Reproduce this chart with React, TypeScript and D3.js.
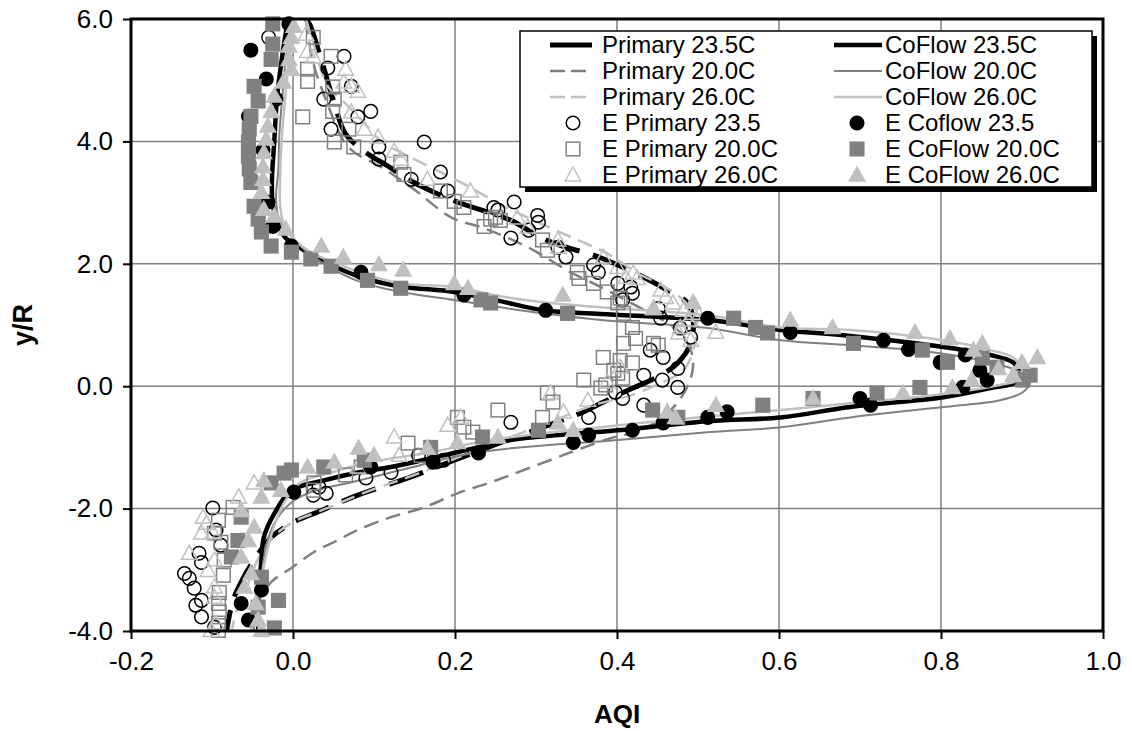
import React, { useEffect, useRef } from 'react';
import * as d3 from 'd3';

type P = [number, number];

const xTicks = [-0.2, 0.0, 0.2, 0.4, 0.6, 0.8, 1.0];
const yTicks = [-4, -2, 0, 2, 4, 6];

// ---- model curves [AQI, y/R] ----
const primary235: P[] = [
  [0.016, 6.0], [0.021, 5.9], [0.035, 5.33], [0.05, 4.67], [0.065, 4.12], [0.09, 3.82], [0.118, 3.59], [0.142, 3.38],
  [0.174, 3.17], [0.203, 3.01], [0.248, 2.81], [0.269, 2.71], [0.306, 2.43], [0.33, 2.3], [0.371, 2.14], [0.396, 2.01],
  [0.433, 1.78], [0.462, 1.57], [0.487, 1.36], [0.494, 1.08], [0.491, 0.7], [0.475, 0.38], [0.454, 0.18], [0.413, -0.07],
  [0.38, -0.28], [0.355, -0.44], [0.275, -0.83], [0.199, -1.21], [0.142, -1.5], [0.08, -1.78], [0.035, -2.03],
  [-0.002, -2.24], [-0.027, -2.47], [-0.045, -2.78], [-0.06, -3.1], [-0.074, -3.5], [-0.082, -4.0],
];
const primary200: P[] = [
  [0.016, 6.0], [0.024, 5.33], [0.041, 4.67], [0.068, 3.91], [0.109, 3.58], [0.149, 3.22], [0.195, 2.76], [0.236, 2.58],
  [0.29, 2.27], [0.343, 1.86], [0.38, 1.62], [0.417, 1.36], [0.45, 1.13], [0.478, 0.88], [0.491, 0.59], [0.494, 0.34],
  [0.488, 0.02], [0.472, -0.31], [0.448, -0.59], [0.417, -0.77], [0.392, -0.85], [0.343, -1.08], [0.285, -1.37],
  [0.244, -1.57], [0.203, -1.75], [0.162, -1.98], [0.121, -2.14], [0.08, -2.35], [0.053, -2.53], [0.026, -2.71],
  [-0.002, -2.97], [-0.027, -3.2], [-0.042, -3.5], [-0.049, -4.0],
];
const primary260: P[] = [
  [0.016, 6.0], [0.026, 5.56], [0.043, 4.9], [0.063, 4.64], [0.084, 4.36], [0.109, 4.0], [0.133, 3.82], [0.174, 3.55],
  [0.216, 3.27], [0.256, 2.97], [0.297, 2.71], [0.351, 2.39], [0.388, 2.17], [0.425, 1.85], [0.462, 1.6], [0.488, 1.32],
  [0.499, 1.0], [0.494, 0.59], [0.482, 0.26], [0.454, 0.05], [0.417, -0.15], [0.371, -0.31], [0.33, -0.52],
  [0.275, -0.8], [0.201, -1.18], [0.146, -1.47], [0.096, -1.7], [0.035, -2.03], [0.0, -2.22], [-0.025, -2.47],
  [-0.042, -2.8], [-0.055, -3.2], [-0.068, -3.6], [-0.076, -4.0],
];
const coflow235: P[] = [
  [-0.006, 6.0], [-0.014, 5.33], [-0.02, 4.67], [-0.023, 4.02], [-0.026, 3.37], [-0.025, 2.96], [-0.018, 2.63],
  [-0.009, 2.42], [0.001, 2.34], [0.022, 2.14], [0.047, 1.98], [0.084, 1.78], [0.133, 1.63], [0.199, 1.54], [0.256, 1.39],
  [0.309, 1.24], [0.38, 1.18], [0.512, 1.08], [0.602, 0.92], [0.688, 0.82], [0.803, 0.64], [0.861, 0.51], [0.889, 0.39],
  [0.898, 0.23], [0.893, 0.07], [0.861, -0.03], [0.803, -0.18], [0.688, -0.34], [0.602, -0.51], [0.515, -0.57],
  [0.401, -0.72], [0.269, -0.88], [0.228, -1.0], [0.17, -1.18], [0.121, -1.32], [0.08, -1.41], [0.038, -1.54],
  [-0.002, -1.7], [-0.023, -2.08], [-0.036, -2.47], [-0.039, -2.84], [-0.042, -3.38], [-0.043, -4.0],
];
const coflow200: P[] = [
  [0.0, 6.0], [-0.009, 5.33], [-0.012, 4.9], [-0.017, 4.08], [-0.018, 3.55], [-0.021, 3.06], [-0.017, 2.73],
  [-0.002, 2.45], [0.018, 2.19], [0.047, 1.93], [0.084, 1.7], [0.133, 1.54], [0.199, 1.41], [0.256, 1.29], [0.309, 1.19],
  [0.38, 1.08], [0.512, 0.95], [0.602, 0.75], [0.688, 0.67], [0.787, 0.56], [0.861, 0.39], [0.898, 0.23], [0.91, 0.07],
  [0.901, -0.1], [0.873, -0.23], [0.803, -0.34], [0.688, -0.51], [0.602, -0.67], [0.515, -0.75], [0.401, -0.88],
  [0.228, -1.08], [0.133, -1.37], [0.072, -1.57], [0.022, -1.73], [-0.002, -1.9], [-0.021, -2.19], [-0.033, -2.6],
  [-0.039, -3.17], [-0.042, -4.0],
];
const coflow260: P[] = [
  [0.0, 6.0], [-0.005, 5.33], [-0.01, 4.67], [-0.014, 4.02], [-0.016, 3.37], [-0.016, 2.96], [-0.011, 2.63],
  [0.0, 2.42], [0.022, 2.19], [0.059, 1.98], [0.096, 1.8], [0.133, 1.68], [0.199, 1.62], [0.256, 1.47], [0.309, 1.37],
  [0.38, 1.29], [0.512, 1.16], [0.602, 0.96], [0.688, 0.92], [0.803, 0.75], [0.861, 0.59], [0.889, 0.47], [0.9, 0.26],
  [0.895, 0.1], [0.873, 0.02], [0.787, -0.15], [0.688, -0.28], [0.602, -0.39], [0.515, -0.49], [0.38, -0.67],
  [0.244, -0.88], [0.17, -1.08], [0.096, -1.24], [0.047, -1.41], [0.01, -1.57], [-0.009, -1.86], [-0.023, -2.27],
  [-0.033, -2.76], [-0.042, -3.33], [-0.052, -4.0],
];

// ---- experimental points [AQI, y/R] ----
const ePrimary235: P[] = [
  [-0.03, 5.7], [0.063, 5.39], [0.043, 5.2], [0.072, 4.9], [0.038, 4.69], [0.096, 4.49], [0.08, 4.4], [0.047, 4.2],
  [0.106, 3.91], [0.106, 3.71], [0.162, 3.99], [0.182, 3.5], [0.191, 3.19], [0.146, 3.38], [0.248, 2.92], [0.273, 3.01],
  [0.253, 2.88], [0.302, 2.79], [0.303, 2.68], [0.269, 2.42], [0.291, 2.55], [0.327, 2.27], [0.337, 2.11], [0.371, 1.98],
  [0.377, 1.86], [0.401, 1.68], [0.417, 1.62], [0.419, 1.52], [0.407, 1.41], [0.451, 1.27], [0.454, 1.11], [0.478, 0.95],
  [0.491, 0.8], [0.441, 0.59], [0.457, 0.47], [0.475, 0.29], [0.433, 0.18], [0.456, 0.1], [0.475, -0.02], [0.398, -0.1],
  [0.407, -0.2], [0.433, -0.31], [0.365, -0.51], [0.269, -0.59], [0.186, -1.21], [0.155, -1.13], [0.121, -1.41],
  [0.09, -1.5], [0.032, -1.65], [0.041, -1.75], [0.025, -1.78], [-0.099, -1.99], [-0.095, -2.35], [-0.089, -2.6],
  [-0.116, -2.73], [-0.113, -2.88], [-0.134, -3.06], [-0.128, -3.14], [-0.122, -3.3], [-0.113, -3.5], [-0.12, -3.58],
  [-0.113, -3.77], [-0.097, -3.94],
];
const ePrimary200: P[] = [
  [0.025, 5.7], [0.047, 5.39], [0.018, 5.18], [0.018, 4.98], [0.049, 4.89], [0.051, 4.69], [0.049, 4.49], [0.012, 4.4],
  [0.069, 4.2], [0.051, 3.99], [0.075, 3.91], [0.133, 3.66], [0.137, 3.46], [0.182, 3.19], [0.199, 3.02], [0.211, 2.92],
  [0.236, 2.61], [0.244, 2.73], [0.25, 2.76], [0.256, 2.71], [0.308, 2.39], [0.314, 2.22], [0.351, 1.86], [0.353, 1.76],
  [0.371, 1.68], [0.388, 1.54], [0.404, 1.44], [0.401, 1.36], [0.408, 1.19], [0.419, 0.96], [0.423, 0.78], [0.408, 0.7],
  [0.445, 0.7], [0.451, 0.67], [0.383, 0.47], [0.404, 0.42], [0.419, 0.38], [0.396, 0.26], [0.401, 0.21], [0.359, 0.1],
  [0.386, 0.02], [0.38, -0.03], [0.407, 0.13], [0.314, -0.11], [0.321, -0.26], [0.253, -0.39], [0.203, -0.51],
  [0.308, -0.51], [0.222, -0.75], [0.211, -0.67], [0.142, -0.93], [0.158, -1.13], [0.084, -1.32], [0.065, -1.45],
  [0.026, -1.58], [0.025, -1.7], [-0.074, -1.98], [-0.092, -2.19], [-0.097, -2.4], [-0.089, -2.55], [-0.085, -2.84],
  [-0.086, -3.09], [-0.091, -3.37], [-0.092, -3.55], [-0.091, -3.69], [-0.092, -3.87], [-0.092, -3.99],
];
const ePrimary260: P[] = [
  [0.016, 5.75], [0.018, 5.47], [0.025, 5.38], [0.065, 5.18], [0.063, 4.97], [0.072, 4.9], [0.08, 4.82], [0.072, 4.48],
  [0.088, 4.2], [0.105, 4.07], [0.125, 3.84], [0.133, 3.71], [0.166, 3.38], [0.219, 3.19], [0.277, 2.75], [0.29, 2.6],
  [0.327, 2.39], [0.328, 2.27], [0.383, 2.11], [0.401, 1.94], [0.411, 1.78], [0.42, 1.85], [0.425, 1.76], [0.454, 1.57],
  [0.46, 1.45], [0.469, 1.36], [0.445, 1.27], [0.482, 1.24], [0.494, 1.19], [0.488, 1.08], [0.501, 1.16], [0.478, 0.96],
  [0.522, 0.88], [0.491, 0.75], [0.476, 0.87], [0.404, 0.31], [0.388, 0.07], [0.364, -0.23], [0.318, -0.11],
  [0.334, -0.42], [0.207, -0.51], [0.191, -0.64], [0.125, -0.83], [0.131, -1.13], [0.08, -1.32], [-0.048, -1.58],
  [-0.067, -1.81], [-0.111, -2.14], [-0.107, -2.24], [-0.113, -2.4], [-0.099, -2.39], [-0.128, -2.73], [-0.097, -2.84],
  [-0.105, -3.01], [-0.097, -3.28], [-0.097, -3.45], [-0.095, -3.87], [-0.101, -3.99],
];
const eCoflow235: P[] = [
  [-0.005, 5.92], [-0.052, 5.49], [-0.033, 5.02], [-0.021, 4.69], [-0.055, 4.41], [-0.037, 3.86], [-0.031, 3.01],
  [-0.025, 2.61], [-0.002, 2.29], [0.084, 1.86], [0.211, 1.49], [0.312, 1.24], [0.512, 1.11], [0.614, 0.88],
  [0.729, 0.75], [0.76, 0.6], [0.799, 0.39], [0.83, 0.51], [0.848, 0.26], [0.857, 0.1], [0.827, -0.02], [0.7, -0.2],
  [0.713, -0.31], [0.536, -0.42], [0.512, -0.51], [0.457, -0.6], [0.419, -0.72], [0.365, -0.8], [0.346, -0.92],
  [0.229, -1.09], [0.173, -1.24], [0.096, -1.32], [0.001, -1.73], [-0.039, -3.33], [-0.064, -3.55], [-0.055, -3.82],
];
const eCoflow200: P[] = [
  [-0.025, 5.92], [-0.025, 5.59], [-0.027, 5.34], [-0.048, 4.9], [-0.043, 4.66], [-0.052, 4.41], [-0.054, 4.2],
  [-0.055, 3.99], [-0.055, 3.76], [-0.054, 3.55], [-0.052, 3.33], [-0.048, 2.94], [-0.043, 2.73], [-0.039, 2.52],
  [-0.027, 2.29], [-0.002, 2.19], [0.022, 2.08], [0.047, 1.96], [0.092, 1.73], [0.133, 1.6], [0.232, 1.41],
  [0.244, 1.36], [0.339, 1.19], [0.544, 1.11], [0.571, 0.96], [0.586, 0.87], [0.692, 0.7], [0.777, 0.59], [0.808, 0.39],
  [0.851, 0.46], [0.869, 0.31], [0.91, 0.18], [0.901, 0.1], [0.774, -0.02], [0.721, -0.11], [0.642, -0.2], [0.58, -0.31],
  [0.475, -0.51], [0.444, -0.39], [0.303, -0.72], [0.234, -0.83], [0.17, -1.0], [0.088, -1.21], [0.038, -1.32],
  [-0.002, -1.37], [-0.011, -1.42], [-0.027, -1.58], [-0.064, -2.14], [-0.068, -2.52], [-0.076, -2.79], [-0.039, -3.12],
  [-0.018, -3.5], [-0.043, -3.61], [-0.023, -3.95],
];
const eCoflow260: P[] = [
  [0.001, 5.88], [-0.002, 5.7], [-0.005, 5.56], [-0.005, 5.34], [-0.002, 5.18], [-0.012, 4.97], [-0.023, 4.74],
  [-0.027, 4.49], [-0.031, 4.25], [-0.033, 4.04], [-0.036, 3.82], [-0.037, 3.59], [-0.037, 3.38], [-0.039, 3.17],
  [-0.036, 2.89], [-0.023, 2.78], [-0.009, 2.57], [0.035, 2.29], [0.062, 2.11], [0.106, 1.99], [0.136, 1.9],
  [0.199, 1.68], [0.216, 1.6], [0.333, 1.49], [0.445, 1.27], [0.494, 1.37], [0.614, 1.08], [0.666, 0.96], [0.768, 0.88],
  [0.811, 0.78], [0.851, 0.7], [0.84, 0.59], [0.9, 0.39], [0.919, 0.47], [0.871, 0.29], [0.889, 0.18], [0.838, 0.1],
  [0.814, -0.02], [0.753, -0.11], [0.642, -0.2], [0.522, -0.31], [0.472, -0.51], [0.462, -0.42], [0.346, -0.72],
  [0.327, -0.6], [0.253, -0.83], [0.203, -0.92], [0.166, -1.01], [0.1, -1.13], [0.081, -1.01], [0.051, -1.24],
  [0.018, -1.32], [-0.015, -1.7], [-0.036, -1.54], [-0.039, -1.81], [-0.064, -2.03], [-0.048, -2.3], [-0.055, -2.52],
  [-0.064, -2.79], [-0.052, -3.06], [-0.06, -3.28], [-0.046, -3.55], [-0.043, -3.82], [-0.039, -3.99],
];

const lineNames = ['Primary 23.5C', 'Primary 20.0C', 'Primary 26.0C', 'CoFlow 23.5C', 'CoFlow 20.0C', 'CoFlow 26.0C'];
const markerNames = ['E Primary 23.5', 'E Primary 20.0C', 'E Primary 26.0C', 'E Coflow 23.5', 'E CoFlow 20.0C', 'E CoFlow 26.0C'];

const BLACK = '#000000';
const GRAY = '#808080';
const LIGHT = '#c0c0c0';
const FONT = '"Liberation Sans", Arial, Helvetica, sans-serif';

const fmt = (d: any) => (+d).toFixed(1);

export default function App() {
  const ref = useRef<SVGSVGElement>(null);

  useEffect(() => {
    const svg = d3.select(ref.current);
    svg.selectAll('*').remove();

    const L = 131, R = 1103, T = 19, B = 631;
    const x = d3.scaleLinear().domain([-0.2, 1.0]).range([L, R]);
    const y = d3.scaleLinear().domain([-4, 6]).range([B, T]);

    svg.append('rect').attr('width', 1132).attr('height', 731).attr('fill', '#fff');

    svg.append('defs').append('clipPath').attr('id', 'plotclip')
      .append('rect').attr('x', L).attr('y', T).attr('width', R - L).attr('height', B - T);

    // gridlines
    const grid = svg.append('g');
    xTicks.slice(1, -1).forEach((t) => {
      grid.append('line').attr('x1', x(t)).attr('x2', x(t)).attr('y1', T).attr('y2', B)
        .attr('stroke', GRAY).attr('stroke-width', 1.5);
    });
    yTicks.slice(1, -1).forEach((t) => {
      grid.append('line').attr('x1', L).attr('x2', R).attr('y1', y(t)).attr('y2', y(t))
        .attr('stroke', GRAY).attr('stroke-width', 1.5);
    });

    const lines = [
      { data: primary235, color: BLACK, width: 5, dash: '36,14', legendDash: null },
      { data: primary200, color: GRAY, width: 2.5, dash: '15,8', legendDash: '15,6' },
      { data: primary260, color: LIGHT, width: 2.5, dash: '15,8', legendDash: '15,6' },
      { data: coflow235, color: BLACK, width: 4.5, dash: null, legendDash: null },
      { data: coflow200, color: GRAY, width: 2, dash: null, legendDash: null },
      { data: coflow260, color: LIGHT, width: 2.5, dash: null, legendDash: null },
    ];

    const lineGen = d3.line<P>().x((d) => x(d[0])).y((d) => y(d[1])).curve(d3.curveCatmullRom.alpha(0.5));
    const plot = svg.append('g').attr('clip-path', 'url(#plotclip)');
    lines.forEach((s) => {
      const p = plot.append('path').attr('d', lineGen(s.data) as string).attr('fill', 'none')
        .attr('stroke', s.color).attr('stroke-width', s.width).attr('stroke-linejoin', 'round');
      if (s.dash) p.attr('stroke-dasharray', s.dash);
    });

    const markers = [
      { data: ePrimary235, shape: 'circle', fill: 'none', stroke: BLACK },
      { data: ePrimary200, shape: 'square', fill: 'none', stroke: GRAY },
      { data: ePrimary260, shape: 'triangle', fill: 'none', stroke: LIGHT },
      { data: eCoflow235, shape: 'circle', fill: BLACK, stroke: BLACK },
      { data: eCoflow200, shape: 'square', fill: GRAY, stroke: GRAY },
      { data: eCoflow260, shape: 'triangle', fill: LIGHT, stroke: LIGHT },
    ];

    const drawMarker = (g: any, shape: string, cx: number, cy: number, fill: string, stroke: string) => {
      if (shape === 'circle') {
        g.append('circle').attr('cx', cx).attr('cy', cy).attr('r', 6.8)
          .attr('fill', fill).attr('stroke', stroke).attr('stroke-width', 1.5);
      } else if (shape === 'square') {
        g.append('rect').attr('x', cx - 6.8).attr('y', cy - 6.8).attr('width', 13.6).attr('height', 13.6)
          .attr('fill', fill).attr('stroke', stroke).attr('stroke-width', 1.5);
      } else {
        g.append('path').attr('d', `M${cx},${cy - 8}L${cx + 7.8},${cy + 6}L${cx - 7.8},${cy + 6}Z`)
          .attr('fill', fill).attr('stroke', stroke).attr('stroke-width', 1.5)
          .attr('stroke-linejoin', 'miter');
      }
    };

    const mg = svg.append('g');
    markers.forEach((m) => {
      m.data.forEach((d) => drawMarker(mg, m.shape, x(d[0]), y(d[1]), m.fill, m.stroke));
    });

    // frame
    svg.append('rect').attr('x', L).attr('y', T).attr('width', R - L).attr('height', B - T)
      .attr('fill', 'none').attr('stroke', BLACK).attr('stroke-width', 3);

    // axes
    const xAxis = svg.append('g').attr('transform', `translate(0,${B})`)
      .call(d3.axisBottom(x).tickValues(xTicks).tickFormat(fmt).tickSize(8).tickPadding(13));
    xAxis.select('.domain').remove();
    xAxis.selectAll('line').attr('stroke', BLACK).attr('stroke-width', 2);
    xAxis.selectAll('text').attr('font-family', FONT).attr('font-size', 26).attr('fill', BLACK);

    const yAxis = svg.append('g').attr('transform', `translate(${L},0)`)
      .call(d3.axisLeft(y).tickValues(yTicks).tickFormat(fmt).tickSize(8).tickPadding(10));
    yAxis.select('.domain').remove();
    yAxis.selectAll('line').attr('stroke', BLACK).attr('stroke-width', 2);
    yAxis.selectAll('text').attr('font-family', FONT).attr('font-size', 26).attr('fill', BLACK);

    svg.append('text').attr('x', (L + R) / 2).attr('y', 723).attr('text-anchor', 'middle')
      .attr('font-family', FONT).attr('font-size', 26).attr('font-weight', 'bold').text('AQI');
    svg.append('text').attr('transform', `translate(32,${(T + B) / 2}) rotate(-90)`).attr('text-anchor', 'middle')
      .attr('font-family', FONT).attr('font-size', 27).attr('font-weight', 'bold').text('y/R');

    // legend
    const lg = svg.append('g');
    const lx = 520, ly = 31, lw = 572, lh = 156;
    lg.append('rect').attr('x', lx + 5).attr('y', ly + 5).attr('width', lw).attr('height', lh).attr('fill', BLACK);
    lg.append('rect').attr('x', lx).attr('y', ly).attr('width', lw).attr('height', lh)
      .attr('fill', '#fff').attr('stroke', BLACK).attr('stroke-width', 1.5);

    const rowY = (i: number) => 45 + i * 26;
    const cols = [
      { lx1: 550, lx2: 592, mx: 573, tx: 602 },
      { lx1: 834, lx2: 882, mx: 857, tx: 885 },
    ];
    const legendText = (tx: number, ty: number, s: string) =>
      lg.append('text').attr('x', tx).attr('y', ty).attr('dy', '0.35em').attr('font-family', FONT)
        .attr('font-size', 24).attr('fill', BLACK).text(s);

    lines.forEach((s, i) => {
      const c = cols[i < 3 ? 0 : 1];
      const r = rowY(i % 3);
      const ln = lg.append('line').attr('x1', c.lx1).attr('x2', c.lx2).attr('y1', r).attr('y2', r)
        .attr('stroke', s.color).attr('stroke-width', s.width);
      if (s.legendDash) ln.attr('stroke-dasharray', s.legendDash);
      legendText(c.tx, r, lineNames[i]);
    });
    markers.forEach((m, i) => {
      const c = cols[i < 3 ? 0 : 1];
      const r = rowY(3 + (i % 3));
      drawMarker(lg, m.shape, c.mx, r, m.fill, m.stroke);
      legendText(c.tx, r, markerNames[i]);
    });
  }, []);

  return (
    <svg ref={ref} width={1132} height={731} style={{ position: 'absolute', left: 0, top: 0, display: 'block' }} />
  );
}
